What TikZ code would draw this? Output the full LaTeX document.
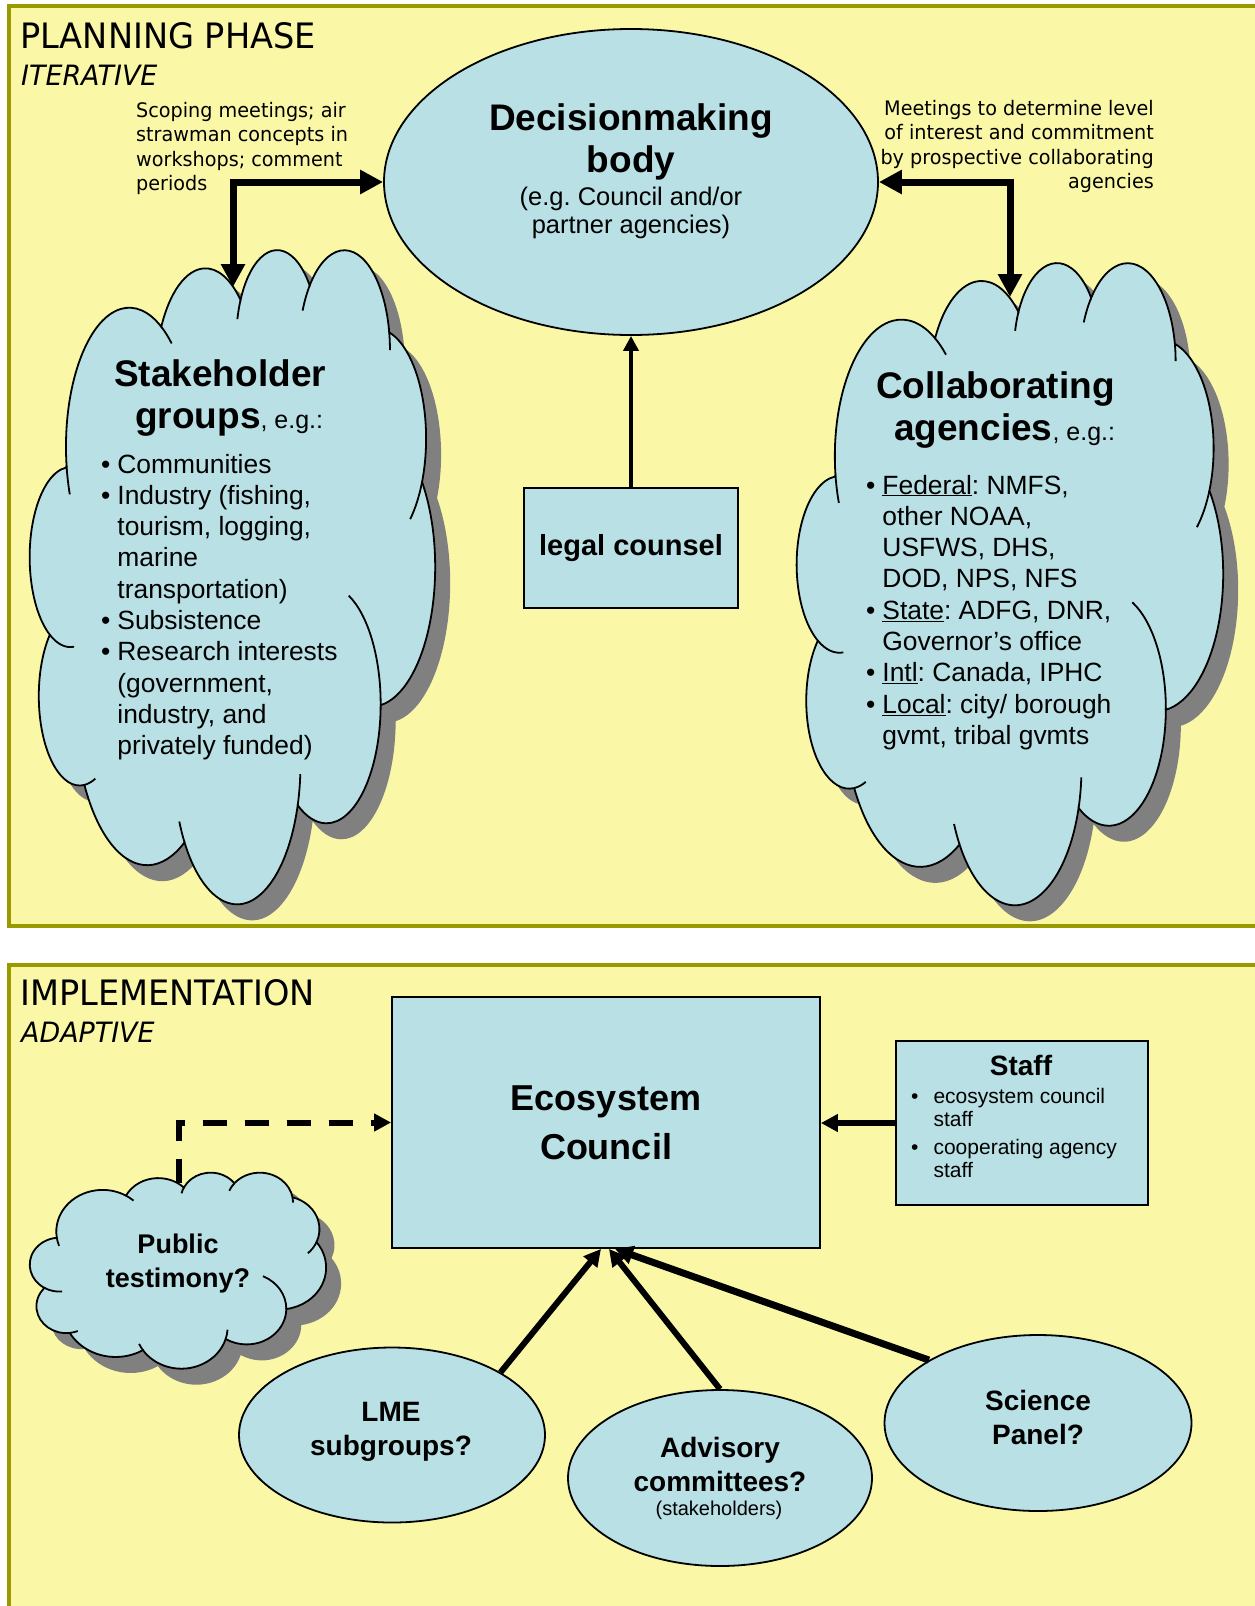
\documentclass[tikz,border=0pt]{standalone}
\usepackage{fontspec}
\setmainfont{Liberation Sans}
\newfontfamily\tahoma[FakeStretch=0.96]{DejaVu Sans}
\usetikzlibrary{shapes.geometric, arrows.meta, positioning}
\frenchspacing

\definecolor{paneyellow}{RGB}{250,248,167}
\definecolor{paneolive}{RGB}{153,153,0}
\definecolor{iceblue}{RGB}{185,224,228}
\definecolor{shadegray}{RGB}{128,128,128}

\newcommand\cloudpath{(39.00,143.70)
  arc[start angle=172.26, end angle=300.36, x radius=67.53, y radius=91.90]
  arc[start angle=-152.04, end angle=-45.44, x radius=53.33, y radius=72.67]
  arc[start angle=-153.50, end angle=-37.34, x radius=43.65, y radius=59.45]
  arc[start angle=-139.72, end angle=-10.21, x radius=48.57, y radius=65.95]
  arc[start angle=-74.77, end angle=23.21, x radius=53.33, y radius=72.73]
  arc[start angle=-37.51, end angle=81.86, x radius=67.75, y radius=92.20]
  arc[start angle=0.46, end angle=121.98, x radius=57.85, y radius=78.67]
  arc[start angle=16.84, end angle=146.22, x radius=67.52, y radius=92.15]
  arc[start angle=58.98, end angle=150.20, x radius=77.20, y radius=105.43]
  arc[start angle=83.31, end angle=223.08, x radius=43.60, y radius=59.18]
  arc[start angle=120.36, end angle=264.11, x radius=43.45, y radius=59.45]
  -- cycle}
\newcommand\puffarc[6]{\draw (#1,#2) ++(#5:#3 and #4) arc[start angle=#5, end angle=#6, x radius=#3, y radius=#4];}

\tikzset{
  panel/.style={draw=paneolive, fill=paneyellow, line width=4pt},
  body/.style={draw=black, fill=iceblue, line width=1.8pt, inner sep=0pt},
  cloudbody/.style={draw=black, fill=iceblue, line width=1.8pt},
  cloudshade/.style={fill=shadegray},
  cloudcrease/.style={draw=black, line width=1.8pt},
  phase/.style={inner sep=0pt, font=\tahoma\fontsize{35}{40}\selectfont},
  phasemode/.style={inner sep=0pt, font=\tahoma\itshape\fontsize{28}{34}\selectfont},
  note/.style={inner sep=0pt, font=\tahoma\fontsize{20}{24.5}\selectfont},
  bighead/.style={inner sep=0pt, font=\bfseries\fontsize{37}{42}\selectfont},
  subnote/.style={inner sep=0pt, font=\fontsize{25.5}{28}\selectfont},
  bullets/.style={inner sep=0pt, font=\fontsize{26.4}{31.3}\selectfont},
  midhead/.style={inner sep=0pt, font=\bfseries\fontsize{28}{34}\selectfont},
  staffitems/.style={inner sep=0pt, font=\fontsize{21}{23.5}\selectfont},
  linkboth/.style={line width=7pt, >={Triangle[length=23pt,width=23pt]}, <->},
  linkthin/.style={line width=4pt, >={Triangle[length=15pt,width=15pt]}, ->},
  linkmid/.style={line width=6pt, >={Triangle[length=17pt,width=17pt]}, ->},
  linkwide/.style={line width=7pt, >={Triangle[length=18pt,width=18pt]}, ->},
  linkdash/.style={line width=6pt, dash pattern=on 24pt off 18pt, >={Triangle[length=17pt,width=17pt]}, ->},
  pics/puffcloud/.style 2 args={code={
    \begin{scope}[shift={(15pt,-16pt)}, xscale=#1/432, yscale=#2/432]
      \fill[cloudshade] \cloudpath;
    \end{scope}
    \begin{scope}[xscale=#1/432, yscale=#2/432]
      \filldraw[cloudbody] \cloudpath;
      \begin{scope}[cloudcrease]
        \puffarc{43.08}{204.17}{43.45}{59.45}{84.8}{120.36}
        \puffarc{52.96}{295.88}{43.60}{59.18}{67.4}{83.31}
        \puffarc{220.94}{341.37}{67.52}{92.15}{146.22}{156}
        \puffarc{220.94}{341.37}{67.52}{92.15}{3.8}{16.84}
        \puffarc{316.20}{301.34}{57.85}{78.67}{-65.7}{0.46}
        \puffarc{369.18}{125.90}{53.33}{72.73}{23.21}{47}
        \puffarc{335.39}{67.42}{48.57}{65.95}{-10.21}{0}
        \puffarc{335.39}{67.42}{48.57}{65.95}{-156.7}{-139.72}
        \puffarc{263.64}{60.85}{43.65}{59.45}{-166.5}{-153.5}
        \puffarc{105.91}{131.32}{67.53}{91.90}{300.36}{312}
        \puffarc{105.91}{131.32}{67.53}{91.90}{160}{172.26}
      \end{scope}
    \end{scope}
  }}
}

\begin{document}
\begin{tikzpicture}[x=1pt, y=-1pt]
\useasboundingbox[fill=white] (0,0) rectangle (1255,1606);
\clip (0,0) rectangle (1255,1606);

\draw[panel] (8.5,6) rectangle (1280,926);
\node[phase, anchor=base west] (planTitle) at (20,48) {PLANNING PHASE};
\node[phasemode, anchor=base west] (planMode) at (21,85) {ITERATIVE};
\node[note, anchor=base west] (scopeNote) at (136,117) {\begin{tabular}[t]{@{}l@{}}Scoping meetings; air\\ strawman concepts in\\ workshops; comment\\ periods\end{tabular}};
\node[note, anchor=base east] (meetNote) at (1154,115) {\begin{tabular}[t]{@{}r@{}}Meetings to determine level\\ of interest and commitment\\ by prospective collaborating\\ agencies\end{tabular}};

\node[body, ellipse, minimum width=494pt, minimum height=306pt] (dm) at (631,182) {};
\node[bighead, anchor=base] (dmTitle) at (631,130) {\begin{tabular}[t]{@{}c@{}}Decisionmaking\\ body\end{tabular}};
\node[subnote, anchor=base] (dmNote) at (631,205) {\begin{tabular}[t]{@{}c@{}}(e.g. Council and/or\\ partner agencies)\end{tabular}};

\node[body, rectangle, minimum width=214pt, minimum height=120pt, font=\bfseries\fontsize{29}{34}\selectfont] (legal) at (631,548) {legal counsel};

\pic (stakeCloud) at (30,248) {puffcloud={405}{654}};
\pic (collabCloud) at (797,261) {puffcloud={426}{642}};

\node[bighead, anchor=base west] (stakeHead) at (114,386) {\begin{tabular}[t]{@{}l@{}}Stakeholder\\ \hspace*{21pt}groups{\mdseries\fontsize{25}{28}\selectfont, e.g.:}\end{tabular}};
\node[bullets, anchor=base west] (stakeList) at (101,473) {\begin{tabular}[t]{@{}l@{\hspace{7pt}}l@{}}
\textbullet & Communities\\
\textbullet & Industry (fishing,\\
 & tourism, logging,\\
 & marine\\
 & transportation)\\
\textbullet & Subsistence\\
\textbullet & Research interests\\
 & (government,\\
 & industry, and\\
 & privately funded)
\end{tabular}};

\node[bighead, anchor=base west] (collabHead) at (876,398) {\begin{tabular}[t]{@{}l@{}}Collaborating\\ \hspace*{18pt}agencies{\mdseries\fontsize{25}{28}\selectfont, e.g.:}\end{tabular}};
\node[bullets, anchor=base west] (collabList) at (866,494) {\begin{tabular}[t]{@{}l@{\hspace{7pt}}l@{}}
\textbullet & \underline{Federal}: NMFS,\\
 & other NOAA,\\
 & USFWS, DHS,\\
 & DOD, NPS, NFS\\
\textbullet & \underline{State}: ADFG, DNR,\\
 & Governor's office\\
\textbullet & \underline{Intl}: Canada, IPHC\\
\textbullet & \underline{Local}: city/ borough\\
 & gvmt, tribal gvmts
\end{tabular}};

\coordinate (stakeTop) at (233,287);
\coordinate (collabTop) at (1010,297);
\draw[linkboth] (stakeTop) |- (dm.west);
\draw[linkboth] (collabTop) |- (dm.east);
\draw[linkthin] (legal) -- (dm);

\draw[panel] (8.5,964.5) rectangle (1280,1640);
\node[phase, anchor=base west] (implTitle) at (20,1005) {IMPLEMENTATION};
\node[phasemode, anchor=base west] (implMode) at (21,1042) {ADAPTIVE};

\node[body, rectangle, minimum width=428pt, minimum height=251pt, align=center, font=\bfseries\fontsize{36}{49}\selectfont] (eco) at (606,1122.5) {Ecosystem\\ Council};

\node[body, rectangle, minimum width=252pt, minimum height=164pt] (staff) at (1022,1123) {};
\node[midhead, anchor=base] (staffHead) at (1021,1075) {Staff};
\node[staffitems, anchor=base west] (staffList) at (911,1103) {\begin{tabular}[t]{@{}l@{\hspace{15pt}}l@{}}
\textbullet & ecosystem council\\
 & staff\\[4pt]
\textbullet & cooperating agency\\
 & staff
\end{tabular}};
\draw[linkmid] (staff.west) -- (staff.west -| eco.east);

\pic (pubCloud) at (30,1172) {puffcloud={296}{196}};
\node[midhead, anchor=base, font=\bfseries\fontsize{27}{34}\selectfont] (pubText) at (178,1253) {\begin{tabular}[t]{@{}c@{}}Public\\ testimony?\end{tabular}};
\coordinate (pubTop) at (179,1183);
\draw[linkdash] (pubTop) |- (eco.west);

\node[body, ellipse, minimum width=306pt, minimum height=175pt] (lme) at (392,1435) {};
\node[body, ellipse, minimum width=304pt, minimum height=176pt] (adv) at (720,1478) {};
\node[body, ellipse, minimum width=307pt, minimum height=176pt] (sci) at (1038,1423) {};
\node[midhead, anchor=base] (lmeText) at (391,1421) {\begin{tabular}[t]{@{}c@{}}LME\\ subgroups?\end{tabular}};
\node[midhead, anchor=base] (advText) at (720,1457) {\begin{tabular}[t]{@{}c@{}}Advisory\\ committees?\end{tabular}};
\node[inner sep=0pt, anchor=base, font=\fontsize{20}{22}\selectfont] (advNote) at (719,1515) {(stakeholders)};
\node[midhead, anchor=base] (sciText) at (1038,1410) {\begin{tabular}[t]{@{}c@{}}Science\\ Panel?\end{tabular}};

\draw[linkmid] (lme.30) -- ([xshift=-5pt]eco.south);
\draw[linkmid] (adv.north) -- ([xshift=3pt]eco.south);
\draw[linkwide] (sci.150) -- ([xshift=9pt]eco.south);
\end{tikzpicture}
\end{document}
